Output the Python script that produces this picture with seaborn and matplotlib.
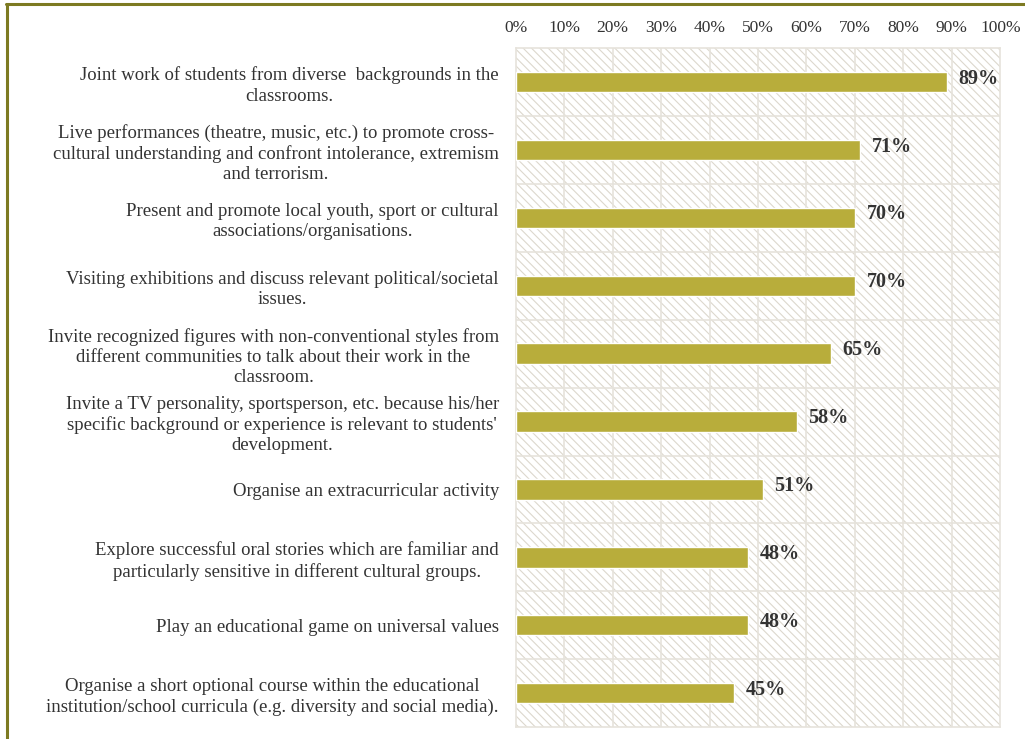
import matplotlib
matplotlib.use("Agg")
import matplotlib.pyplot as plt
import matplotlib.ticker as mticker
from matplotlib.patches import Rectangle
from matplotlib.lines import Line2D
import seaborn as sns
import pandas as pd

labels = [
    "Joint work of students from diverse  backgrounds in the\nclassrooms.",
    "Live performances (theatre, music, etc.) to promote cross-\ncultural understanding and confront intolerance, extremism\nand terrorism.",
    "Present and promote local youth, sport or cultural\nassociations/organisations.",
    "Visiting exhibitions and discuss relevant political/societal\nissues.",
    "Invite recognized figures with non-conventional styles from\ndifferent communities to talk about their work in the\nclassroom.",
    "Invite a TV personality, sportsperson, etc. because his/her\nspecific background or experience is relevant to students'\ndevelopment.",
    "Organise an extracurricular activity",
    "Explore successful oral stories which are familiar and\nparticularly sensitive in different cultural groups.",
    "Play an educational game on universal values",
    "Organise a short optional course within the educational\ninstitution/school curricula (e.g. diversity and social media).",
]
values = [89, 71, 70, 70, 65, 58, 51, 48, 48, 45]

df = pd.DataFrame({"activity": labels, "share": values})

sns.set_style("white")
plt.rcParams["font.family"] = ["Liberation Serif", "DejaVu Serif"]
plt.rcParams["hatch.color"] = "#dcd8cd"
plt.rcParams["hatch.linewidth"] = 0.8

fig = plt.figure(figsize=(10.25, 7.39), dpi=100)
ax = fig.add_axes([0.503, 0.016, 0.473, 0.919])

# hatched background
ax.add_patch(Rectangle((0, 0), 1, 1, transform=ax.transAxes, facecolor="white",
                       edgecolor="#dcd8cd", hatch="\\\\\\\\", linewidth=0, zorder=0))

sns.barplot(data=df, x="share", y="activity", orient="h", color="#b8ad3b",
            width=0.3, saturation=1, ax=ax, zorder=3)

ax.set_xlim(0, 100)
ax.set_ylim(len(labels) - 0.5, -0.5)
ax.xaxis.set_major_locator(mticker.MultipleLocator(10))
ax.xaxis.set_major_formatter(mticker.FuncFormatter(lambda v, p: f"{v:.0f}%"))
ax.xaxis.tick_top()
ax.tick_params(axis="x", length=0, pad=9, labelsize=12.5, colors="#333333")
ax.tick_params(axis="y", length=0, pad=12, labelsize=13.5, colors="#333333")
for t in ax.get_yticklabels():
    t.set_multialignment("center")
    t.set_linespacing(1.25)
ax.set_xlabel("")
ax.set_ylabel("")

# grid
for xv in range(10, 100, 10):
    ax.axvline(xv, color="#e6e3dc", linewidth=1.2, zorder=1)
for yv in range(len(labels) - 1):
    ax.axhline(yv + 0.5, color="#e6e3dc", linewidth=1.2, zorder=1)
for s in ax.spines.values():
    s.set_color("#e6e3dc")
    s.set_linewidth(1.2)

for i, v in enumerate(values):
    ax.text(v + 2.4, i - 0.05, f"{v}%", va="center", ha="left",
            fontsize=14.5, fontweight="bold", color="#333333", zorder=4)

# olive frame
fig.add_artist(Line2D([0.006, 1], [0.994, 0.994], color="#7d7a22", linewidth=2.2))
fig.add_artist(Line2D([0.007, 0.007], [0, 0.994], color="#7d7a22", linewidth=2.2))

fig.savefig("out.png", dpi=100)
